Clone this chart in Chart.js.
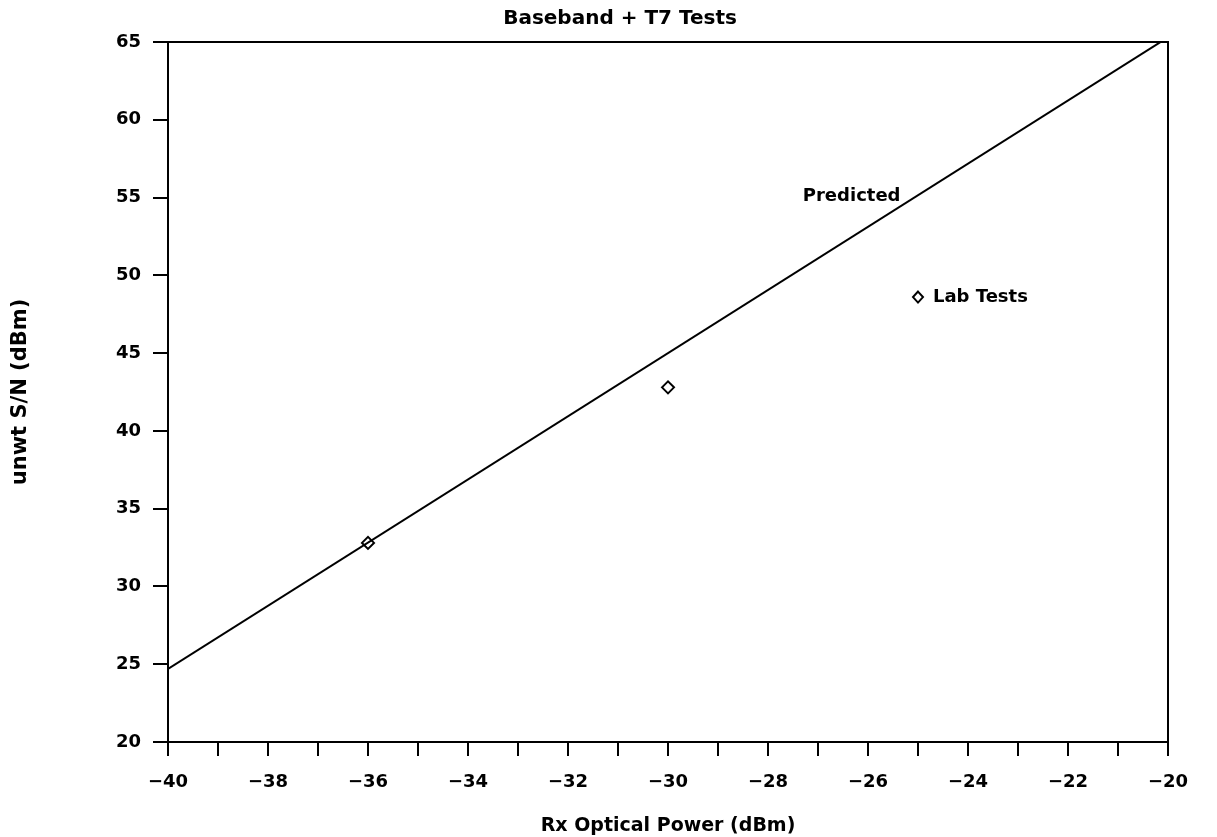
<!DOCTYPE html>
<html>
<head>
<meta charset="utf-8">
<script src="https://cdn.jsdelivr.net/npm/chart.js@4/dist/chart.umd.min.js"></script>
<style>
  html, body { margin: 0; padding: 0; background: #fff; }
  #snr-chart { display: block; }
</style>
</head>
<body>
<canvas id="snr-chart" width="1217" height="837"></canvas>
<script>
// values
const predictedX = [-40, -20];
const predictedY = [24.7, 65.3];
const labX = [-36, -30];
const labY = [32.8, 42.8];

const chartTitle = 'Baseband + T7 Tests';
const xTitle = 'Rx Optical Power (dBm)';
const yTitle = 'unwt S/N (dBm)';

const FONT = '"DejaVu Sans", sans-serif';

function toPoints(xs, ys) {
    return xs.map((x, i) => ({x: x, y: ys[i]}));
}

// frame, title and the in-plot labels
const decorations = {
    id: 'decorations',
    afterDraw(chart) {
        const ctx = chart.ctx;
        const area = chart.chartArea;
        const xs = chart.scales.x;
        const ys = chart.scales.y;
        ctx.save();
        ctx.strokeStyle = '#000';
        ctx.lineWidth = 2;
        ctx.strokeRect(area.left, area.top, area.right - area.left, area.bottom - area.top);

        ctx.fillStyle = '#000';
        ctx.textBaseline = 'middle';
        ctx.font = 'bold 20px ' + FONT;
        ctx.textAlign = 'center';
        ctx.fillText(chartTitle, 620, 19);

        ctx.font = 'bold 18px ' + FONT;
        ctx.textAlign = 'right';
        ctx.fillText('Predicted', xs.getPixelForValue(-25.35), ys.getPixelForValue(55.1));

        // legend entry for the lab points
        const mx = xs.getPixelForValue(-25);
        const my = ys.getPixelForValue(48.6);
        ctx.beginPath();
        ctx.moveTo(mx, my - 5.5);
        ctx.lineTo(mx + 5, my);
        ctx.lineTo(mx, my + 5.5);
        ctx.lineTo(mx - 5, my);
        ctx.closePath();
        ctx.fillStyle = '#fff';
        ctx.fill();
        ctx.stroke();
        ctx.fillStyle = '#000';
        ctx.textAlign = 'left';
        ctx.fillText('Lab Tests', mx + 15, my);
        ctx.restore();
    }
};

const ctx = document.getElementById('snr-chart').getContext('2d');

const snrChart = new Chart(ctx, {
    type: 'scatter',
    data: {
        datasets: [{
            label: 'Predicted',
            data: toPoints(predictedX, predictedY),
            showLine: true,
            borderColor: '#000',
            borderWidth: 2,
            pointRadius: 0
        }, {
            label: 'Lab Tests',
            data: toPoints(labX, labY),
            pointStyle: 'rectRot',
            pointRadius: 6,
            pointBackgroundColor: '#fff',
            pointBorderColor: '#000',
            pointBorderWidth: 2
        }]
    },
    options: {
        responsive: false,
        animation: false,
        layout: {
            padding: {left: 0, top: 42, right: 49, bottom: 0}
        },
        plugins: {
            legend: {display: false},
            title: {display: false},
            tooltip: {enabled: false}
        },
        scales: {
            x: {
                type: 'linear',
                min: -40,
                max: -20,
                afterFit(scale) { scale.height = 95; },
                grid: {
                    drawOnChartArea: false,
                    color: '#000',
                    lineWidth: 2,
                    tickLength: 14
                },
                border: {color: '#000', width: 2},
                ticks: {
                    stepSize: 1,
                    autoSkip: false,
                    maxRotation: 0,
                    padding: 16,
                    color: '#000',
                    font: {family: FONT, size: 18, weight: 'bold'},
                    callback: v => (v % 2 === 0 ? String(v).replace('-', '\u2212') : '')
                },
                title: {
                    display: true,
                    text: xTitle,
                    color: '#000',
                    font: {family: FONT, size: 19, weight: 'bold'},
                    padding: 0
                }
            },
            y: {
                type: 'linear',
                min: 20,
                max: 65,
                afterFit(scale) { scale.width = 168; },
                grid: {
                    drawOnChartArea: false,
                    color: '#000',
                    lineWidth: 2,
                    tickLength: 15
                },
                border: {color: '#000', width: 2},
                ticks: {
                    stepSize: 5,
                    padding: 12,
                    color: '#000',
                    font: {family: FONT, size: 18, weight: 'bold'}
                },
                title: {
                    display: true,
                    text: yTitle,
                    color: '#000',
                    font: {family: FONT, size: 21, weight: 'bold'},
                    padding: {top: 8, bottom: 0}
                }
            }
        }
    },
    plugins: [decorations]
});
</script>
</body>
</html>
